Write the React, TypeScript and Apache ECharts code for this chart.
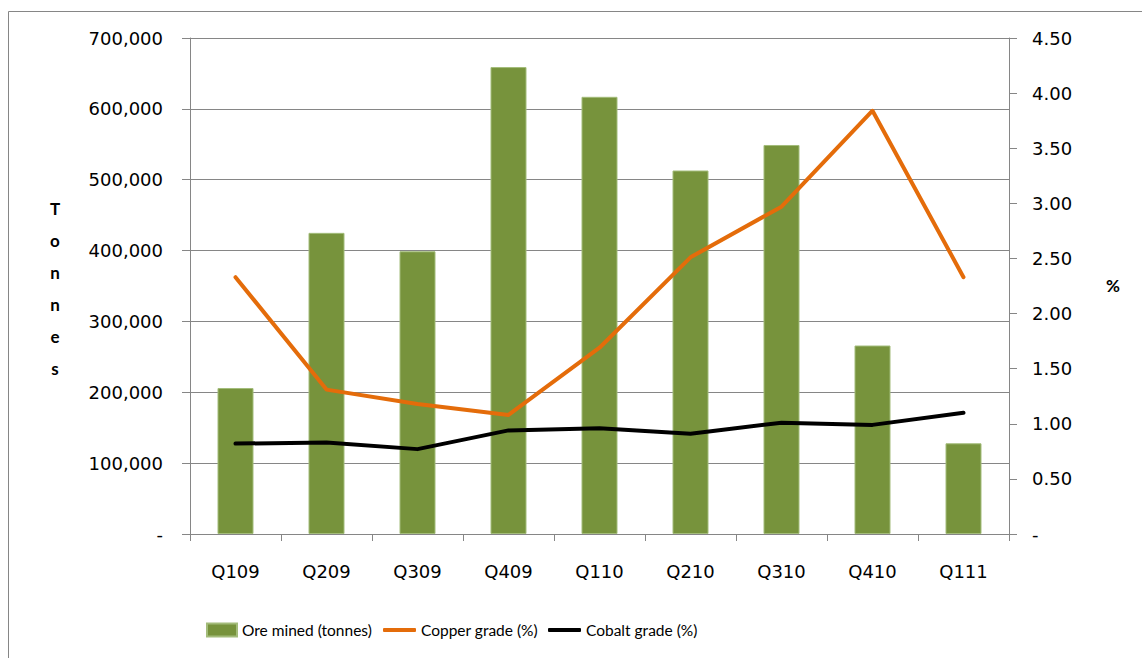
import React, { useEffect, useRef } from "react";
import * as echarts from "echarts";

const categories = ["Q109", "Q209", "Q309", "Q409", "Q110", "Q210", "Q310", "Q410", "Q111"];
const oreMined = [206000, 425000, 399000, 659000, 617000, 513000, 549000, 266000, 128000];
const copperGrade = [2.33, 1.31, 1.18, 1.08, 1.69, 2.51, 2.97, 3.84, 2.33];
const cobaltGrade = [0.82, 0.83, 0.77, 0.94, 0.96, 0.91, 1.01, 0.99, 1.1];
const seriesNames = ["Ore mined (tonnes)", "Copper grade (%)", "Cobalt grade (%)"];
const leftAxisTitle = "Tonnes";
const rightAxisTitle = "%";

const GRAY = "#868686";
const TICK_FONT = "'DejaVu Sans', sans-serif";
const LEGEND_FONT = "Lato, 'Liberation Sans', sans-serif";

export default function App() {
  const ref = useRef<HTMLDivElement>(null);
  useEffect(() => {
    if (!ref.current) return;
    const chart = echarts.init(ref.current, undefined, { renderer: "svg" });
    const textStyle = { fontFamily: LEGEND_FONT, fontSize: 15.5, color: "#000" };
    const legendCommon = { top: 622, padding: 0, itemGap: 0, selectedMode: false, textStyle };
    chart.setOption({
      animation: false,
      backgroundColor: "#fff",
      grid: { left: 190, right: 133, top: 38, bottom: 124, containLabel: false },
      legend: [
        { ...legendCommon, left: 206, itemWidth: 30, itemHeight: 13, icon: "rect", data: [seriesNames[0]] },
        { ...legendCommon, left: 383, itemWidth: 33, itemHeight: 4, icon: "roundRect", data: [seriesNames[1]] },
        { ...legendCommon, left: 548, itemWidth: 33, itemHeight: 4, icon: "roundRect", data: [seriesNames[2]] },
      ],
      xAxis: {
        type: "category",
        data: categories,
        boundaryGap: true,
        axisLine: { lineStyle: { color: GRAY, width: 1 } },
        axisTick: { show: true, length: 7, lineStyle: { color: GRAY } },
        axisLabel: { color: "#000", fontFamily: TICK_FONT, fontSize: 18, margin: 28 },
      },
      yAxis: [
        {
          type: "value",
          min: 0,
          max: 700000,
          interval: 100000,
          position: "left",
          axisLine: { show: true, lineStyle: { color: GRAY, width: 1 } },
          axisTick: { show: true, length: 8, lineStyle: { color: GRAY } },
          splitLine: { show: true, lineStyle: { color: GRAY, width: 1 } },
          axisLabel: {
            color: "#000",
            fontFamily: TICK_FONT,
            fontSize: 18,
            margin: 27,
            formatter: (v: number) => (v === 0 ? "-" : v.toLocaleString("en-US")),
          },
        },
        {
          type: "value",
          min: 0,
          max: 4.5,
          interval: 0.5,
          position: "right",
          axisLine: { show: true, lineStyle: { color: GRAY, width: 1 } },
          axisTick: { show: true, length: 8, lineStyle: { color: GRAY } },
          splitLine: { show: false },
          axisLabel: {
            color: "#000",
            fontFamily: TICK_FONT,
            fontSize: 18,
            margin: 23,
            formatter: (v: number) => (v === 0 ? "-" : v.toFixed(2)),
          },
        },
      ],
      graphic: [
        {
          type: "rect",
          shape: { x: 8.5, y: 11.5, width: 1300, height: 800 },
          style: { fill: "none", stroke: GRAY, lineWidth: 1 },
          silent: true,
        },
        {
          type: "text",
          x: 55,
          y: 192,
          style: {
            text: leftAxisTitle.split("").join("\n"),
            font: "bold 17px Lato, 'Liberation Sans', sans-serif",
            fill: "#000",
            lineHeight: 32,
            align: "center",
          },
        },
        {
          type: "text",
          x: 1106,
          y: 277,
          style: {
            text: rightAxisTitle,
            font: "bold 17px Lato, 'Liberation Sans', sans-serif",
            fill: "#000",
          },
        },
      ],
      series: [
        {
          name: seriesNames[0],
          type: "bar",
          data: oreMined,
          yAxisIndex: 0,
          barWidth: 36,
          itemStyle: { color: "#77933C", borderColor: "#A3BC7A", borderWidth: 1 },
        },
        {
          name: seriesNames[1],
          type: "line",
          data: copperGrade,
          yAxisIndex: 1,
          symbol: "none",
          showSymbol: false,
          lineStyle: { color: "#E46C0A", width: 4, cap: "round", join: "round" },
          itemStyle: { color: "#E46C0A" },
        },
        {
          name: seriesNames[2],
          type: "line",
          data: cobaltGrade,
          yAxisIndex: 1,
          symbol: "none",
          showSymbol: false,
          lineStyle: { color: "#000000", width: 4, cap: "round", join: "round" },
          itemStyle: { color: "#000000" },
        },
      ],
    });
    return () => chart.dispose();
  }, []);
  return (
    <div
      ref={ref}
      style={{ position: "fixed", left: 0, top: 0, width: 1142, height: 658, background: "#fff" }}
    />
  );
}
